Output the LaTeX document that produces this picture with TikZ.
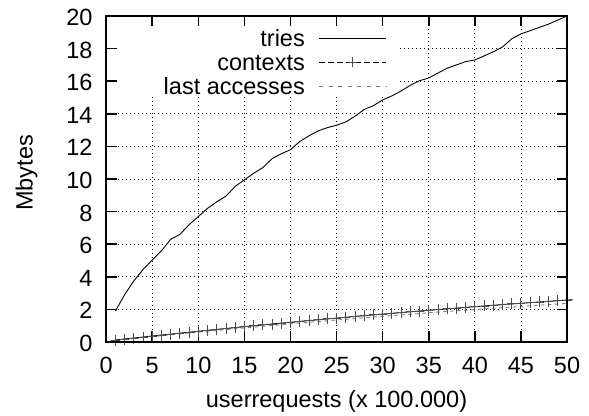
\documentclass[tikz,border=0pt]{standalone}
\usepackage{fontspec}
\setmainfont{Liberation Sans}
\begin{document}
\begin{tikzpicture}[x=1pt,y=1pt,
  lbl/.style={font=\fontsize{23.5}{28}\selectfont, inner sep=0pt},
  frameline/.style={line width=1.6pt, black},
  tickline/.style={line width=1.6pt, black},
  gridline/.style={line width=0.8pt, black, dash pattern=on 0.9pt off 3.1pt},
  triesline/.style={line width=0.9pt, black},
  ctxline/.style={line width=0.9pt, black},
  ctxkey/.style={line width=0.9pt, black, dash pattern=on 5.5pt off 3.5pt},
  mk/.style={line width=0.9pt, black!70},
  lastline/.style={line width=0.9pt, black!50, dash pattern=on 3.5pt off 3.5pt},
  lastkey/.style={line width=0.9pt, black!55, dash pattern=on 4pt off 5.5pt}]
\useasboundingbox (0,0) rectangle (589,415);
\begin{scope}[shift={(106.2,73)}, x=9.216pt, y=16.3pt]
  % grid (blanked where the key sits)
  \foreach \x in {5,10,...,30} \draw[gridline] (\x,0) -- (\x,15.03);
  \foreach \x in {35,40,45} \draw[gridline] (\x,0) -- (\x,20);
  \foreach \y in {2,4,...,14} \draw[gridline] (0,\y) -- (50,\y);
  \foreach \y in {16,18} \draw[gridline] (31.9,\y) -- (50,\y);
  % ticks
  \foreach \x in {5,10,...,45} {
    \draw[tickline] (\x,0) -- ++(0,10.5pt);
    \draw[tickline] (\x,20) -- ++(0,-10.5pt);
  }
  \foreach \y in {2,4,...,18} {
    \draw[tickline] (0,\y) -- ++(10.5pt,0);
    \draw[tickline] (50,\y) -- ++(-10.5pt,0);
  }
  % tick labels
  \foreach \x in {0,5,...,50}
    \node[lbl, anchor=base, yshift=-31.5pt] (xl\x) at (\x,0) {\x};
  \foreach \y in {0,2,...,20}
    \node[lbl, anchor=base east, xshift=-13.5pt, yshift=-9.5pt] (yl\y) at (0,\y) {\y};
  % data: last accesses
  \draw[lastline] plot[domain=1:50, samples=80]
    (\x, {0.92*(0.12+0.062*(\x-1)-0.00025*(\x-1)^2)});
  % data: contexts
  \draw[ctxline] plot[domain=1:50.6, samples=80]
    (\x, {0.12+0.062*(\x-1)-0.00025*(\x-1)^2});
  \foreach \i in {1,...,50}
    \draw[mk] ({\i}, {0.12+0.062*(\i-1)-0.00025*(\i-1)^2})
      +(-4.5pt,0) -- +(4.5pt,0) +(0,-5.5pt) -- +(0,5.5pt);
  % data: tries
  \draw[triesline] plot coordinates {
    (1,1.9) (2,2.9) (3,3.75) (4,4.45) (5,5.03) (6,5.6) (7,6.3) (8,6.6)
    (9,7.2) (10,7.7) (11,8.2) (12,8.6) (13,8.95) (14,9.55) (15,9.95)
    (16,10.35) (17,10.7) (18,11.25) (19,11.55) (20,11.8) (21,12.3)
    (22,12.65) (23,12.95) (24,13.15) (25,13.3) (26,13.5) (27,13.85)
    (28,14.27) (29,14.5) (30,14.85) (31,15.1) (32,15.4) (33,15.75)
    (34,16.03) (35,16.2) (36,16.5) (37,16.8) (38,17.0) (39,17.2)
    (40,17.3) (41,17.55) (42,17.8) (43,18.1) (44,18.6) (45,18.9)
    (46,19.1) (47,19.3) (48,19.5) (49,19.75) (50,20.0)};
  % frame
  \draw[frameline] (0,0) rectangle (50,20);
\end{scope}
% key
\node[lbl, anchor=base east] (k1) at (305,368.7) {tries};
\node[lbl, anchor=base east] (k2) at (305,344.5) {contexts};
\node[lbl, anchor=base east] (k3) at (305,320.3) {last accesses};
\coordinate (s1a) at (319,376.7); \coordinate (s1b) at (386,376.7);
\coordinate (s2a) at (319,352.5); \coordinate (s2b) at (386,352.5);
\coordinate (s3a) at (319,328.3); \coordinate (s3b) at (386,328.3);
\coordinate (s2m) at (352.5,352.5);
\draw[triesline] (s1a) -- (s1b);
\draw[ctxkey] (s2a) -- (s2b);
\draw[mk] (s2m) +(-4.5pt,0) -- +(4.5pt,0) +(0,-5pt) -- +(0,5pt);
\draw[lastkey] (s3a) -- (s3b);
% axis titles
\node[lbl, anchor=base, rotate=90] (ytitle) at (32.5,242) {Mbytes};
\node[lbl, anchor=base] (xtitle) at (336.5,7) {userrequests (x 100.000)};
\end{tikzpicture}
\end{document}
